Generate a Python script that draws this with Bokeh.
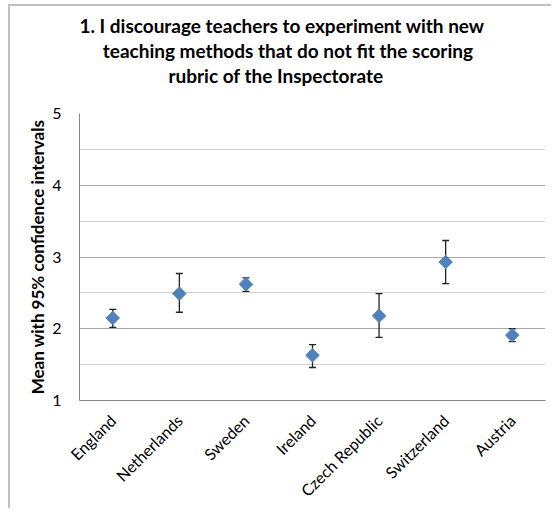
import math
from bokeh.plotting import figure
from bokeh.models import ColumnDataSource, Whisker, TeeHead, Title, FixedTicker, Range1d
from bokeh.embed import file_html
from bokeh.resources import INLINE

countries = ["England", "Netherlands", "Sweden", "Ireland", "Czech Republic", "Switzerland", "Austria"]
means = [2.15, 2.49, 2.62, 1.63, 2.18, 2.93, 1.91]
upper = [2.27, 2.77, 2.71, 1.78, 2.49, 3.23, 2.00]
lower = [2.02, 2.23, 2.52, 1.46, 1.88, 2.63, 1.82]
title_lines = [
    "1. I discourage teachers to experiment with new",
    "teaching methods that do not fit the scoring",
    "rubric of the Inspectorate",
]
y_ticks = [1, 2, 3, 4, 5]
y_minor = [1.5, 2.5, 3.5, 4.5]
y_label = "Mean with 95% confidence intervals"

FONT = "Lato"

src = ColumnDataSource(dict(cat=countries, mean=means, upper=upper, lower=lower))

p = figure(x_range=countries, y_range=Range1d(1, 5),
           width=543, height=504,
           min_border_left=69, min_border_right=8,
           min_border_top=107, min_border_bottom=110,
           output_backend="svg", toolbar_location=None)
p.styles = {"margin-left": "8px", "margin-top": "4px",
            "border-left": "2px solid #c0c0c0", "border-top": "2px solid #c0c0c0"}
p.outline_line_color = None
p.background_fill_color = "white"
p.border_fill_color = "white"

ticker = FixedTicker(ticks=y_ticks, minor_ticks=y_minor)
p.xgrid.grid_line_color = None
p.ygrid.ticker = ticker
p.ygrid.grid_line_color = "#a8a8a8"
p.ygrid.minor_grid_line_color = "#d0d0d0"
p.yaxis.ticker = ticker

for ax in (p.xaxis, p.yaxis):
    ax.axis_line_color = "#868686"
    ax.major_tick_line_color = None
    ax.minor_tick_line_color = None
    ax.major_label_text_font = FONT
    ax.major_label_text_color = "black"
    ax.major_label_text_font_size = "16px"

p.yaxis.major_label_standoff = 12
p.yaxis.axis_label = y_label
p.yaxis.axis_label_text_font = FONT
p.yaxis.axis_label_text_font_style = "bold"
p.yaxis.axis_label_text_font_size = "17px"
p.yaxis.axis_label_text_color = "black"
p.yaxis.axis_label_standoff = 1

p.xaxis.major_label_orientation = math.pi / 4
p.xaxis.major_label_standoff = 11
p.xaxis.major_label_text_font_size = "16px"

w = Whisker(source=src, base="cat", upper="upper", lower="lower",
            line_color="#222222", line_width=1.3,
            upper_head=TeeHead(size=7, line_color="#222222", line_width=1.3),
            lower_head=TeeHead(size=7, line_color="#222222", line_width=1.3))
p.add_layout(w)

p.scatter("cat", "mean", source=src, marker="square", size=9.5, angle=math.pi / 4,
          fill_color="#4F81BD", line_color="#4F81BD")

TSIZE = "19px"

# blank spacer between the plot area and the title block (nearest the frame)
p.add_layout(Title(text=" ", align="left", standoff=2,
                   text_font=FONT, text_font_size=TSIZE), "above")

# title: three lines; p.title is outermost, added titles stack outward from the frame
offsets = [61, 72.5, 162]
p.title.text = title_lines[0]
p.title.align = "right"
p.title.offset = offsets[0]
p.title.standoff = 0
p.title.text_font = FONT
p.title.text_font_style = "bold"
p.title.text_font_size = TSIZE
p.title.text_color = "black"
for i in (2, 1):
    p.add_layout(Title(text=title_lines[i], align="right", offset=offsets[i], standoff=0,
                       text_font=FONT, text_font_style="bold", text_font_size=TSIZE,
                       text_color="black"), "above")

open("out.html", "w").write(file_html(p, INLINE))
